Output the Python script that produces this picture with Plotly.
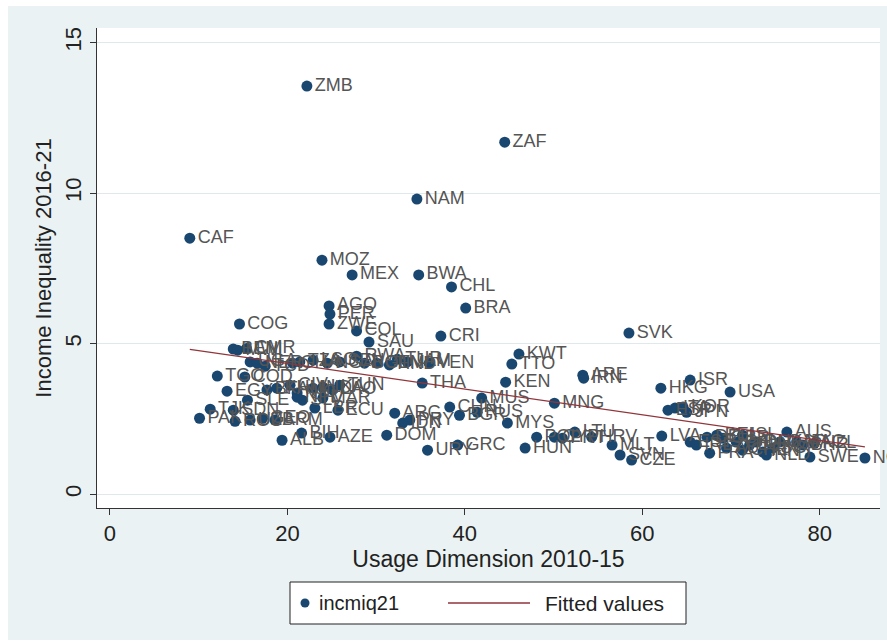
import numpy as np
import plotly.graph_objects as go

# Country codes, usage dimension (2010-15) and income inequality (2016-21)
codes = [
    "ZMB", "ZAF", "NAM", "CAF", "MOZ", "MEX", "BWA", "CHL", "BRA", "AGO",
    "PER", "ZWE", "COL", "SAU", "CRI", "COG", "SVK", "BEN", "MWI", "CMR",
    "KWT", "TTO", "ARE", "IRN", "KEN", "HKG", "ISR", "USA", "THA", "MUS",
    "MNG", "ESP", "ITA", "KOR", "JPN", "MYS", "HUN", "URY", "GRC", "DOM",
    "AZE", "ALB", "CZE", "LVA", "AUS", "SWE", "NOR", "UGA", "NER", "TCD",
    "GHA", "TZA", "LSO", "NGA", "SEN", "RWA", "BOL", "GTM", "HND", "TUR",
    "JAM", "VEN", "TGO", "COD", "EGY", "SLE", "BFA", "KHM", "CIV", "NIC",
    "SLV", "IND", "LKA", "LAO", "TUN", "MAR", "NPL", "LBR", "ECU", "ARG",
    "PRY", "IDN", "CHN", "BGR", "RUS", "TJK", "PAK", "SDN", "ROU", "UZB",
    "GEO", "ARM", "BIH", "POL", "CYP", "PRT", "LTU", "HRV", "MLT", "SVN",
    "EST", "IRL", "DEU", "FRA", "BEL", "GBR", "AUT", "CAN", "ISL", "CHE",
    "LUX", "DNK", "FIN", "NLD", "SGP", "QAT", "MAC", "BHR", "NZL",
]
usage = [
    22.2, 44.5, 34.6, 9.0, 23.9, 27.3, 34.8, 38.5, 40.1, 24.7,
    24.8, 24.7, 27.8, 29.2, 37.3, 14.6, 58.5, 13.9, 14.4, 15.4,
    46.1, 45.3, 53.3, 53.4, 44.6, 62.1, 65.4, 69.9, 35.2, 41.9,
    50.1, 62.9, 63.7, 64.6, 65.0, 44.8, 46.8, 35.8, 39.2, 31.2,
    24.8, 19.4, 58.8, 62.2, 76.3, 78.9, 85.1, 15.8, 16.6, 17.5,
    20.6, 21.4, 22.9, 24.5, 25.9, 27.8, 28.7, 30.1, 31.5, 32.4,
    33.5, 36.0, 12.1, 15.2, 13.2, 15.5, 17.7, 18.8, 20.3, 21.1,
    21.7, 22.9, 24.0, 25.1, 25.9, 24.0, 21.1, 23.1, 25.7, 32.1,
    33.8, 33.0, 38.3, 39.4, 41.4, 11.3, 10.1, 13.9, 14.1, 15.8,
    17.2, 18.6, 21.6, 48.1, 50.1, 51.0, 52.4, 54.3, 56.6, 57.5,
    65.4, 66.1, 67.3, 67.6, 68.4, 69.1, 69.5, 70.6, 71.3, 71.3,
    72.1, 72.9, 73.6, 74.0, 74.7, 75.5, 77.4, 78.1, 79.4,
]
inequality = [
    13.55, 11.69, 9.80, 8.50, 7.77, 7.28, 7.28, 6.88, 6.18, 6.25,
    5.98, 5.65, 5.42, 5.05, 5.25, 5.65, 5.35, 4.82, 4.78, 4.84,
    4.65, 4.32, 3.95, 3.85, 3.72, 3.52, 3.79, 3.39, 3.69, 3.19,
    3.02, 2.79, 2.86, 2.89, 2.72, 2.36, 1.53, 1.46, 1.63, 1.96,
    1.89, 1.79, 1.13, 1.93, 2.06, 1.23, 1.20, 4.39, 4.35, 4.25,
    4.35, 4.39, 4.45, 4.35, 4.39, 4.58, 4.35, 4.35, 4.29, 4.48,
    4.39, 4.35, 3.92, 3.89, 3.42, 3.12, 3.46, 3.52, 3.62, 3.36,
    3.12, 3.52, 3.55, 3.46, 3.62, 3.19, 3.22, 2.86, 2.79, 2.69,
    2.46, 2.36, 2.89, 2.62, 2.72, 2.82, 2.52, 2.79, 2.42, 2.46,
    2.52, 2.46, 2.03, 1.89, 1.89, 1.86, 2.06, 1.89, 1.63, 1.30,
    1.73, 1.63, 1.89, 1.36, 1.96, 1.86, 1.53, 1.73, 1.96, 1.46,
    1.63, 1.73, 1.40, 1.30, 1.53, 1.73, 1.73, 1.63, 1.69,
]

x_ticks = [0, 20, 40, 60, 80]
y_ticks = [0, 5, 10, 15]
legend_labels = ["incmiq21", "Fitted values"]

NAVY = "#1a476f"
MAROON = "#90353b"
BG = "#eaf2f3"
INK = "#222222"
FONT = "Liberation Sans, Arial, sans-serif"

# Linear fit (fitted values) over the observed range of usage
x = np.array(usage)
y = np.array(inequality)
slope, intercept = np.polyfit(x, y, 1)
fit_x = np.array([x.min(), x.max()])
fit_y = intercept + slope * fit_x

fig = go.Figure()
fig.add_trace(go.Scatter(
    x=usage, y=inequality, mode="markers+text", text=codes,
    textposition="middle right",
    textfont=dict(family=FONT, size=18, color="#555555"),
    marker=dict(color=NAVY, size=11, line=dict(width=0)),
    cliponaxis=False, name=legend_labels[0], showlegend=False,
))
fig.add_trace(go.Scatter(
    x=fit_x, y=fit_y, mode="lines",
    line=dict(color=MAROON, width=1.3),
    name=legend_labels[1], showlegend=False,
))

W, H = 887, 642
L, R, T, B = 97, 7, 28, 134
pw, ph = W - L - R, H - T - B


def px_x(p):
    return (p - L) / pw


def px_y(p):
    return (H - B - p) / ph


def rect(x0, y0, x1, y1, **kw):
    return dict(type="rect", xref="paper", yref="paper",
                x0=px_x(x0), x1=px_x(x1), y0=px_y(y1), y1=px_y(y0), **kw)


no_line = dict(width=0)
shapes = [
    # white strips around the outer graph region
    rect(0, 0, W, 6, fillcolor="white", line=no_line, layer="below"),
    rect(0, 0, 8, H, fillcolor="white", line=no_line, layer="below"),
    rect(0, 640, W, H, fillcolor="white", line=no_line, layer="below"),
    # legend box
    rect(290, 582, 686, 624, fillcolor="white", line=dict(color=INK, width=1)),
    # legend keys
    dict(type="circle", xref="paper", yref="paper",
         x0=px_x(300.5), x1=px_x(309.5), y0=px_y(607.5), y1=px_y(598.5),
         fillcolor=NAVY, line=no_line),
    dict(type="line", xref="paper", yref="paper",
         x0=px_x(448), x1=px_x(530), y0=px_y(603), y1=px_y(603),
         line=dict(color=MAROON, width=1.3)),
]

annotations = [
    dict(text=legend_labels[0], xref="paper", yref="paper",
         x=px_x(317), y=px_y(603), xanchor="left", yanchor="middle",
         showarrow=False, font=dict(family=FONT, size=20, color=INK)),
    dict(text=legend_labels[1], xref="paper", yref="paper",
         x=px_x(543), y=px_y(603), xanchor="left", yanchor="middle",
         showarrow=False, font=dict(family=FONT, size=21, color=INK)),
]

fig.update_layout(
    width=W, height=H,
    margin=dict(l=L, r=R, t=T, b=B),
    paper_bgcolor=BG, plot_bgcolor="white",
    font=dict(family=FONT, color=INK),
    shapes=shapes, annotations=annotations,
    showlegend=False,
    xaxis=dict(
        range=[-1.46, 86.8], tickvals=x_ticks, showgrid=False, zeroline=False,
        showline=True, linecolor="#333333", linewidth=1,
        ticks="outside", ticklen=6, tickcolor="#333333",
        tickfont=dict(family=FONT, size=22, color=INK),
        title=dict(text="Usage Dimension 2010-15", standoff=0,
                   font=dict(family=FONT, size=23, color=INK)),
    ),
    yaxis=dict(
        range=[-0.46, 15.48], tickvals=y_ticks, showgrid=True,
        gridcolor="#dfe8eb", gridwidth=1, zeroline=False,
        showline=True, linecolor="#333333", linewidth=1,
        ticks="outside", ticklen=6, tickcolor="#333333", tickangle=-90,
        tickfont=dict(family=FONT, size=22, color=INK),
        title=dict(text="Income Inequality 2016-21", standoff=3,
                   font=dict(family=FONT, size=22, color=INK)),
    ),
)

fig.write_html("out.html")
